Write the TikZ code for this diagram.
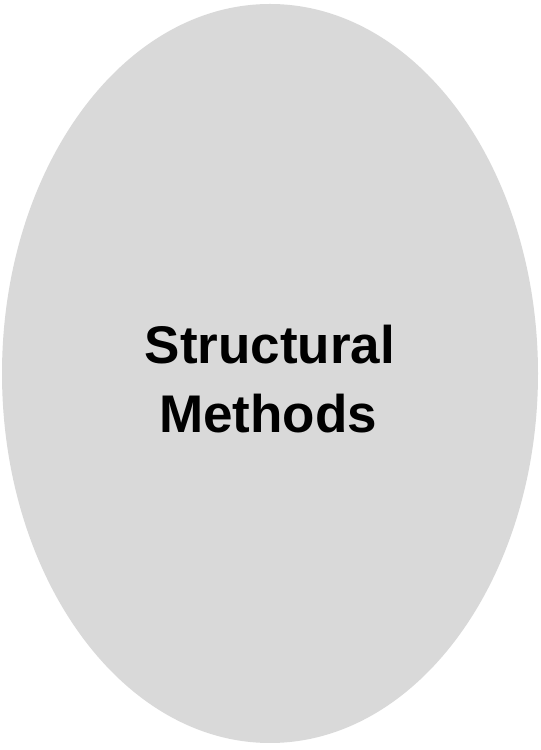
\documentclass[tikz,border=0pt]{standalone}
\usepackage{fontspec}
\setmainfont{Liberation Sans}
\definecolor{shapegray}{HTML}{D9D9D9}
\begin{document}
\begin{tikzpicture}[x=1pt,y=1pt,
  lbl/.style={anchor=base,inner sep=0pt,font=\fontsize{53}{64}\selectfont\bfseries}]
\useasboundingbox (0,0) rectangle (541,750);
\fill[shapegray] (270,376.5) ellipse [x radius=268, y radius=369.5];
\node[lbl] (l1) at (270,386) {Structural};
\node[lbl] (l2) at (268,317) {Methods};
\end{tikzpicture}
\end{document}
